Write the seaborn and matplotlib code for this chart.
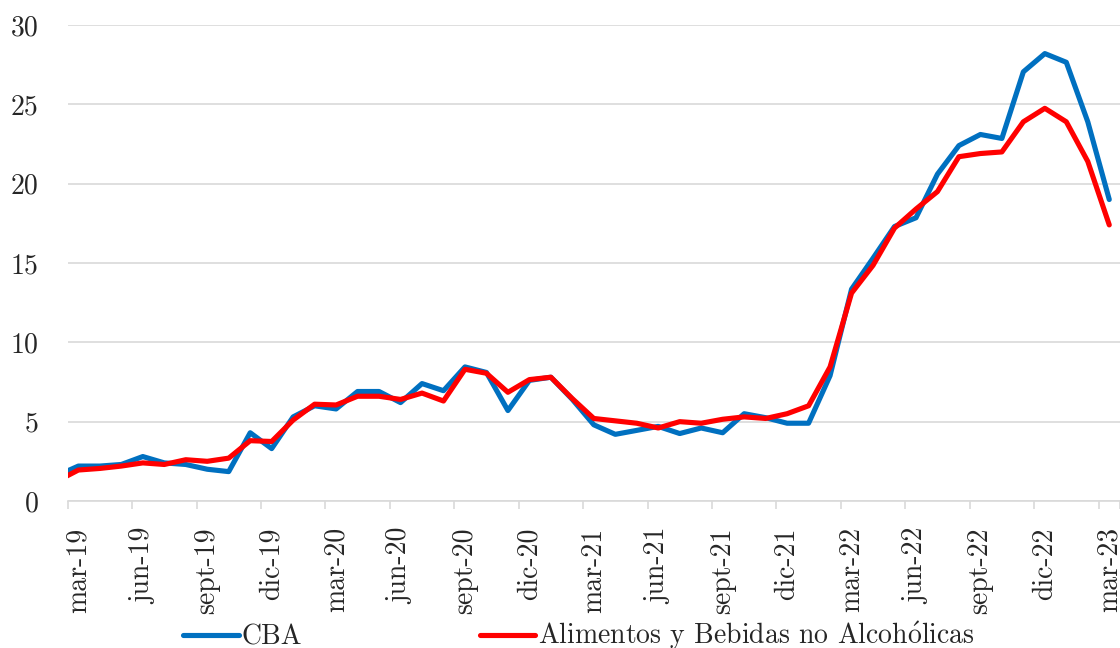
import pandas as pd
import seaborn as sns
import matplotlib.pyplot as plt
from matplotlib.ticker import FixedLocator

# monthly series, feb-19 (clipped at the left edge) to mar-23
meses = ['ene', 'feb', 'mar', 'abr', 'may', 'jun', 'jul', 'ago', 'sept', 'oct', 'nov', 'dic']
labels = ['{}-{}'.format(meses[(1 + k) % 12], 19 + (1 + k) // 12) for k in range(50)]

cba = [1.6, 2.2, 2.2, 2.3, 2.8, 2.4, 2.3, 2.0, 1.85, 4.3, 3.3,
       5.3, 6.0, 5.8, 6.9, 6.9, 6.2, 7.4, 6.95, 8.45, 8.1,
       5.7, 7.6, 7.8, 6.4, 4.8, 4.2, 4.45, 4.7, 4.25, 4.6,
       4.3, 5.5, 5.25, 4.9, 4.9, 7.9, 13.35, 15.3, 17.3, 17.85,
       20.6, 22.4, 23.1, 22.85, 27.05, 28.2, 27.65, 23.9, 19.0]
alimentos = [1.25, 1.95, 2.05, 2.2, 2.4, 2.3, 2.6, 2.5, 2.7, 3.8, 3.75,
             5.1, 6.1, 6.05, 6.6, 6.6, 6.4, 6.8, 6.3, 8.3, 8.05,
             6.85, 7.65, 7.8, 6.45, 5.2, 5.05, 4.9, 4.6, 5.0, 4.9,
             5.15, 5.3, 5.2, 5.5, 6.0, 8.45, 13.1, 14.85, 17.2, 18.4,
             19.5, 21.7, 21.9, 22.0, 23.9, 24.75, 23.9, 21.4, 17.4]
# the accented o is drawn with mathtext, cmr10 has no such glyph
series = ['CBA', 'Alimentos y Bebidas no Alcoh$\\mathrm{\\acute{o}}$licas']
colores = ['#0070C0', '#FF0000']

pos = list(range(-1, 49))
df = pd.DataFrame({
    'pos': pos * 2,
    'valor': cba + alimentos,
    'serie': [series[0]] * len(cba) + [series[1]] * len(alimentos),
})

sns.set_style('white')
plt.rcParams['font.family'] = ['cmr10', 'DejaVu Serif']
plt.rcParams['mathtext.fontset'] = 'cm'
plt.rcParams['axes.formatter.use_mathtext'] = True

fig, ax = plt.subplots(figsize=(11.2, 6.48), dpi=100)
fig.subplots_adjust(left=0.0604, right=1.0, bottom=0.2269, top=0.9614)

sns.lineplot(data=df, x='pos', y='valor', hue='serie', hue_order=series,
             palette=colores, linewidth=3.7, ax=ax, legend=True)
for ln in ax.get_lines():
    ln.set_solid_capstyle('round')
    ln.set_solid_joinstyle('round')

ax.set_xlim(-0.5, 48.5)
ax.set_ylim(0, 30)
ax.set_xlabel('')
ax.set_ylabel('')

ax.set_yticks(range(0, 31, 5))
ax.set_yticklabels([str(v) for v in range(0, 31, 5)], fontsize=20)
ax.tick_params(axis='y', length=0, pad=21)
ax.yaxis.grid(True, color='#d9d9d9', linewidth=1.2)
ax.set_axisbelow(True)

major = list(range(0, 49, 3))
ax.set_xticks(major)
ax.set_xticklabels([labels[p + 1] for p in major], rotation=90, fontsize=20)
ax.xaxis.set_minor_locator(FixedLocator([p - 0.5 for p in major] + [48.5]))
ax.tick_params(axis='x', which='major', length=0, pad=19)
ax.tick_params(axis='x', which='minor', length=6, width=1.2, color='#d9d9d9', bottom=True)

for s in ['top', 'right', 'left']:
    ax.spines[s].set_visible(False)
ax.spines['bottom'].set_color('#d9d9d9')
ax.spines['bottom'].set_linewidth(1.2)

handles, labs = ax.get_legend_handles_labels()
ax.get_legend().remove()
leg = fig.legend(handles, labs, loc='center', bbox_to_anchor=(579 / 1120, 12 / 648),
                 ncol=2, frameon=False, fontsize=20, handlelength=2.0,
                 handletextpad=0.1, columnspacing=6.4, borderaxespad=0)
for h in leg.legend_handles:
    h.set_solid_capstyle('round')

fig.savefig('out.png', dpi=100)
